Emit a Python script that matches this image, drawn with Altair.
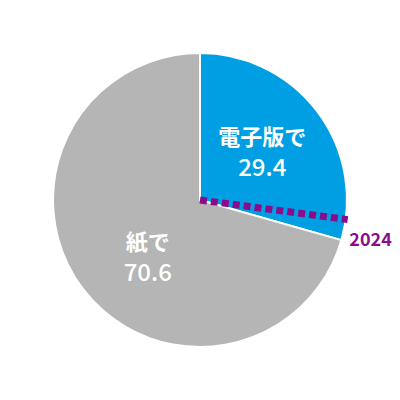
import altair as alt
import pandas as pd

# Share of reading, by format (percent)
categories = ["電子版で", "紙で"]
values = [29.4, 70.6]
order = [0, 1]
colors = ["#009FE3", "#B5B5B5"]

# Previous year's split (electronic share, percent)
prev_year_label = "2024"
prev_year_value = 27.1

df = pd.DataFrame({"category": categories, "value": values, "order": order})

W = 400
R = 147
FONT = "Noto Sans CJK JP"
base = alt.Chart(df)

pie = base.mark_arc(outerRadius=R, stroke="white", strokeWidth=2).encode(
    theta=alt.Theta("value:Q", stack=True),
    order=alt.Order("order:Q"),
    color=alt.Color("category:N", scale=alt.Scale(domain=categories, range=colors), legend=None),
)


def slice_label(cat, radius, dx, dy_name, dy_val):
    # Stack over the whole table first, then show only this slice's label
    enc = dict(
        theta=alt.Theta("value:Q", stack=True),
        order=alt.Order("order:Q"),
        radius=alt.value(radius),
        opacity=alt.condition(alt.datum.category == cat, alt.value(1), alt.value(0)),
    )
    name = base.mark_text(
        font=FONT, fontSize=22, fontWeight="bold", color="white", dx=dx, dy=dy_name
    ).encode(text="category:N", **enc)
    num = base.mark_text(
        font=FONT, fontSize=24, fontWeight=500, color="white", dx=dx, dy=dy_val
    ).encode(text=alt.Text("value:Q", format=".1f"), **enc)
    return [name, num]


labels = slice_label(categories[0], 78, 0, -15, 16) + slice_label(categories[1], 78, 10, -4, 27)

# Dotted marker for the previous year's boundary
prev = pd.DataFrame({"label": [prev_year_label], "value": [prev_year_value]})
xs = alt.Scale(domain=[-W / 2, W / 2], range=[0, W])
ys = alt.Scale(domain=[-W / 2, W / 2], range=[W, 0])
marker = alt.Chart(prev).transform_calculate(
    x0="0",
    y0="0",
    x1="149 * sin(2 * PI * datum.value / 100)",
    y1="149 * cos(2 * PI * datum.value / 100)",
    xt="172 * sin(2 * PI * datum.value / 100)",
    yt="172 * cos(2 * PI * datum.value / 100) - 18",
)
rule = marker.mark_rule(color="#8B0C8A", strokeWidth=7, strokeDash=[7, 4], strokeCap="butt").encode(
    x=alt.X("x0:Q", scale=xs, axis=None),
    y=alt.Y("y0:Q", scale=ys, axis=None),
    x2="x1:Q",
    y2="y1:Q",
)
year_text = marker.mark_text(
    font=FONT, fontSize=18, fontWeight="bold", color="#8B0C8A", align="center", baseline="middle"
).encode(
    x=alt.X("xt:Q", scale=xs, axis=None),
    y=alt.Y("yt:Q", scale=ys, axis=None),
    text="label:N",
)

chart = (
    alt.layer(pie, *labels, rule, year_text)
    .properties(
        width=W,
        height=W,
        padding=0,
        background="white",
        autosize=alt.AutoSizeParams(type="none"),
    )
    .configure_view(strokeWidth=0, stroke="transparent")
)

chart.save("out.html", embed_options={"renderer": "svg", "actions": False})
